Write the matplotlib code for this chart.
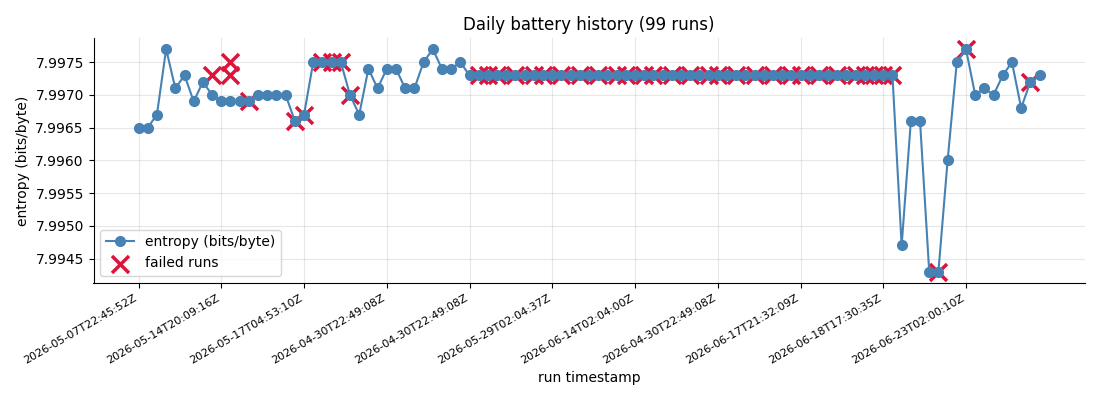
import matplotlib
matplotlib.use("Agg")
import matplotlib.pyplot as plt

entropy = [
    7.9965, 7.9965, 7.9967, 7.9977, 7.9971, 7.9973, 7.9969, 7.9972, 7.9970, 7.9969,
    7.9969, 7.9969, 7.9969, 7.9970, 7.9970, 7.9970, 7.9970, 7.9966, 7.9967, 7.9975,
    7.9975, 7.9975, 7.9975, 7.9970, 7.9967, 7.9974, 7.9971, 7.9974, 7.9974, 7.9971,
    7.9971, 7.9975, 7.9977, 7.9974, 7.9974, 7.9975,
] + [7.9973] * 47 + [
    7.9947, 7.9966, 7.9966, 7.9943, 7.9943, 7.9960, 7.9975, 7.9977, 7.9970, 7.9971,
    7.9970, 7.9973, 7.9975, 7.9968, 7.9972, 7.9973,
]

failed_idx = [8, 10, 10, 12, 17, 18, 20, 21, 22, 23,
              37, 38, 39, 41, 43, 44, 46, 48, 50, 52, 53, 55, 56, 58, 60, 62, 63,
              65, 67, 69, 71, 72, 74, 76, 78, 79, 80, 81, 82,
              87, 90, 97]
failed_val = [7.9973, 7.9975, 7.9973, 7.9969, 7.9966, 7.9967, 7.9975, 7.9975, 7.9975, 7.9970] \
    + [7.9973] * 29 + [7.9943, 7.9977, 7.9972]

tick_idx = [0, 9, 18, 27, 36, 45, 54, 63, 72, 81, 90]
tick_labels = [
    "2026-05-07T22:45:52Z", "2026-05-14T20:09:16Z", "2026-05-17T04:53:10Z",
    "2026-04-30T22:49:08Z", "2026-04-30T22:49:08Z", "2026-05-29T02:04:37Z",
    "2026-06-14T02:04:00Z", "2026-04-30T22:49:08Z", "2026-06-17T21:32:09Z",
    "2026-06-18T17:30:35Z", "2026-06-23T02:00:10Z",
]

fig, ax = plt.subplots(figsize=(11, 4), dpi=100)
x = list(range(len(entropy)))
ax.plot(x, entropy, color="steelblue", marker="o", markersize=7, linewidth=1.5,
        label="entropy (bits/byte)", zorder=3)
ax.scatter(failed_idx, failed_val, marker="x", color="crimson", s=150,
           linewidths=2.5, label="failed runs", zorder=2)

ax.set_xticks(tick_idx)
ax.set_xticklabels(tick_labels, rotation=30, ha="right", fontsize=8)
ax.ticklabel_format(axis="y", useOffset=False)
ax.set_title("Daily battery history (99 runs)")
ax.set_xlabel("run timestamp")
ax.set_ylabel("entropy (bits/byte)")
ax.grid(True, alpha=0.3)
ax.spines["top"].set_visible(False)
ax.spines["right"].set_visible(False)
ax.legend(loc="lower left")
fig.subplots_adjust(left=0.085, right=0.986, top=0.905, bottom=0.293)
fig.savefig("out.png")
